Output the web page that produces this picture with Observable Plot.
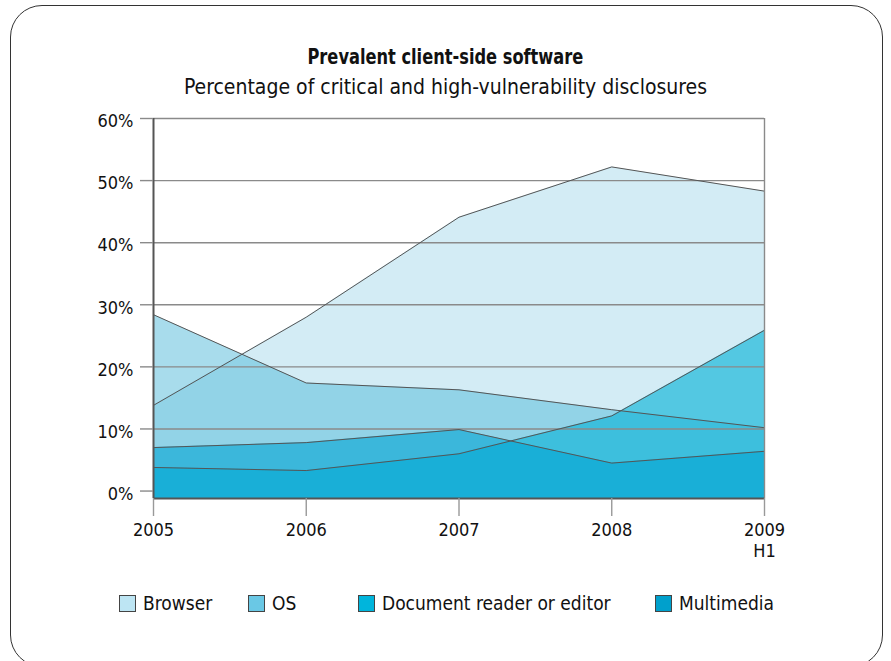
<!DOCTYPE html>
<html>
<head>
<meta charset="utf-8">
<script src="https://cdn.jsdelivr.net/npm/d3@7"></script>
<script src="https://cdn.jsdelivr.net/npm/@observablehq/plot@0.6"></script>
<style>
  html, body { margin: 0; padding: 0; background: #fff; }
  body { width: 891px; height: 661px; position: relative; overflow: hidden;
         font-family: "Liberation Sans Narrow", "DejaVu Sans Condensed", "Roboto Condensed", "Liberation Sans", sans-serif; color: #111; }
  #border { position: absolute; left: 10px; top: 5px; width: 873px; height: 662px;
            border: 1.4px solid #333; border-radius: 32px; box-sizing: border-box; }
  #title { position: absolute; left: 0; width: 891px; top: 44px; text-align: center;
           font-size: 22px; font-weight: bold; transform: scaleX(0.82); transform-origin: 445px 0; }
  #subtitle { position: absolute; left: 0; width: 891px; top: 75px; text-align: center;
              font-size: 21px; }
  #chart { position: absolute; left: 0; top: 0; }
  #legend { position: absolute; top: 592px; left: 0; width: 891px; height: 22px; font-size: 19px; }
  .item { position: absolute; display: flex; align-items: center; }
  .sw { width: 15px; height: 15px; border: 1px solid #444; margin-right: 7px; }
</style>
</head>
<body>
<div id="border"></div>
<div id="chart"></div>
<div id="title">Prevalent client-side software</div>
<div id="subtitle">Percentage of critical and high-vulnerability disclosures</div>
<div id="legend"></div>
<script>
const years = [2005, 2006, 2007, 2008, 2009];
const xTickLabels = ["2005", "2006", "2007", "2008", "2009\nH1"];
const yTicks = [0, 10, 20, 30, 40, 50, 60];
const yTickLabels = ["0%", "10%", "20%", "30%", "40%", "50%", "60%"];
const seriesNames = ["Browser", "OS", "Document reader or editor", "Multimedia"];
const browser    = [13.8, 28.0, 44.1, 52.2, 48.3];
const os         = [28.4, 17.4, 16.3, 13.1, 10.2];
const docReader  = [3.8, 3.3, 6.0, 12.1, 25.9];
const multimedia = [7.0, 7.8, 9.9, 4.5, 6.4];

const fills      = ["#d3ecf5", "#51b9d9", "#10b5d8", "#02a5d3"];
const opacities  = [1, 0.5, 0.66, 0.6];
const swatches   = ["#bde5f3", "#6ac8e5", "#00b5dc", "#00a0cc"];

const seriesValues = [browser, os, docReader, multimedia];
const yMin = -1.2;

const marks = [];
seriesValues.forEach((vals, i) => {
  const data = years.map((yr, j) => ({year: yr, value: vals[j]}));
  marks.push(Plot.areaY(data, {x: "year", y1: yMin, y2: "value", fill: fills[i], fillOpacity: opacities[i]}));
});
// gridlines
marks.push(Plot.ruleY(yTicks.filter(d => d > 0 && d < 60), {stroke: "#8a8a8a", strokeWidth: 1.4, strokeOpacity: 1}));
seriesValues.forEach((vals, i) => {
  const data = years.map((yr, j) => ({year: yr, value: vals[j]}));
  marks.push(Plot.lineY(data, {x: "year", y: "value", stroke: "#555", strokeWidth: 1}));
});
// frame
marks.push(Plot.ruleY([60], {stroke: "#8a8a8a", strokeWidth: 1.4}));
marks.push(Plot.ruleX([2009], {stroke: "#8a8a8a", strokeWidth: 1.4}));
marks.push(Plot.ruleX([2005], {stroke: "#555", strokeWidth: 2}));
marks.push(Plot.ruleY([yMin], {stroke: "#555", strokeWidth: 2}));
marks.push(Plot.axisY(yTicks, {label: null, tickSize: 13, tickFormat: () => "", stroke: "#8a8a8a", strokeWidth: 1.4, strokeOpacity: 1}));
marks.push(Plot.text(yTicks, {y: d => d, text: (d, i) => yTickLabels[i], frameAnchor: "left", dx: -20, dy: 3, textAnchor: "end", fontSize: 18, fill: "#111"}));
marks.push(Plot.axisX(years, {label: null, tickSize: 18, tickPadding: 4, tickFormat: (d) => xTickLabels[years.indexOf(d)], fontSize: 18, stroke: "#999", strokeWidth: 1.4, strokeOpacity: 1, fill: "#111", lineHeight: 1.2}));

const chart = Plot.plot({
  width: 891,
  height: 580,
  marginLeft: 153,
  marginRight: 127,
  marginTop: 118,
  marginBottom: 82,
  style: {fontFamily: '"Liberation Sans Narrow", "DejaVu Sans Condensed", "Roboto Condensed", sans-serif', background: "transparent", overflow: "visible"},
  x: {domain: [2005, 2009], axis: null},
  y: {domain: [yMin, 60], axis: null},
  marks
});
document.getElementById("chart").appendChild(chart);

const legend = document.getElementById("legend");
const lefts = [119, 248, 358, 655];
seriesNames.forEach((name, i) => {
  const it = document.createElement("div");
  it.className = "item";
  it.style.left = lefts[i] + "px";
  const sw = document.createElement("div");
  sw.className = "sw";
  sw.style.background = swatches[i];
  it.appendChild(sw);
  const t = document.createElement("span");
  t.textContent = name;
  it.appendChild(t);
  legend.appendChild(it);
});
</script>
</body>
</html>
